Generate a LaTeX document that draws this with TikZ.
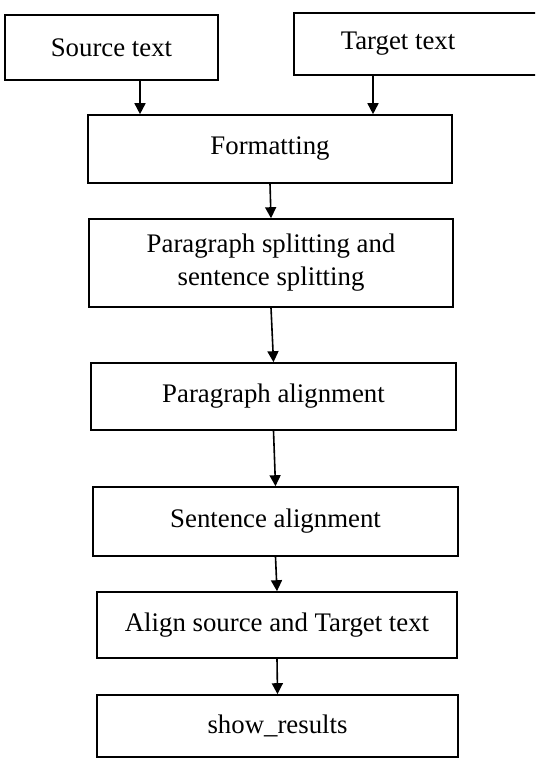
\documentclass[tikz,border=0pt]{standalone}
\usepackage{fontspec}
\setmainfont{Liberation Serif}
\usetikzlibrary{arrows.meta}

\begin{document}
\begin{tikzpicture}[x=0.5pt,y=-0.5pt,
    stage/.style={draw,line width=0.8pt,inner sep=0pt,align=center,
      font=\fontsize{13.4}{16.5}\selectfont},
    arr/.style={line width=0.8pt,-{Triangle[length=5.5pt,width=5.5pt]}}]
      \clip (0,0) rectangle (535,758);
      % inputs
      \node[stage,minimum width=106.5pt,minimum height=32.5pt] (src) at (111.5,47.5) {Source text};
      \node[stage,minimum width=140pt,minimum height=31pt] (tgt) at (434,44) {\hspace*{-36pt}Target text};
      % processing chain
      \node[stage,minimum width=182pt,minimum height=34pt] (fmt) at (270,149) {Formatting};
      \node[stage,minimum width=182pt,minimum height=44pt] (split) at (271,263) {Paragraph splitting and\\sentence splitting};
      \node[stage,minimum width=182.5pt,minimum height=33.5pt] (paral) at (273.5,396.5) {Paragraph alignment};
      \node[stage,minimum width=182.5pt,minimum height=34.5pt] (sental) at (275.5,521.5) {Sentence alignment};
      \node[stage,minimum width=180pt,minimum height=33pt] (align) at (277,625) {Align source and Target text};
      \node[stage,minimum width=180.5pt,minimum height=31pt] (show) at (277.5,726) {show\_results};
      % connectors
      \draw[arr] (src.south -| 140,0) -- (fmt.north -| 140,0);
      \draw[arr] (tgt.south -| 373,0) -- (fmt.north -| 373,0);
      \draw[arr] (fmt.south) -- (split.north);
      \draw[arr] (split.south) -- (paral.north);
      \draw[arr] (paral.south) -- (sental.north);
      \draw[arr] (sental.south) -- (align.north);
      \draw[arr] (align.south) -- (show.north);
    \end{tikzpicture}
\end{document}
